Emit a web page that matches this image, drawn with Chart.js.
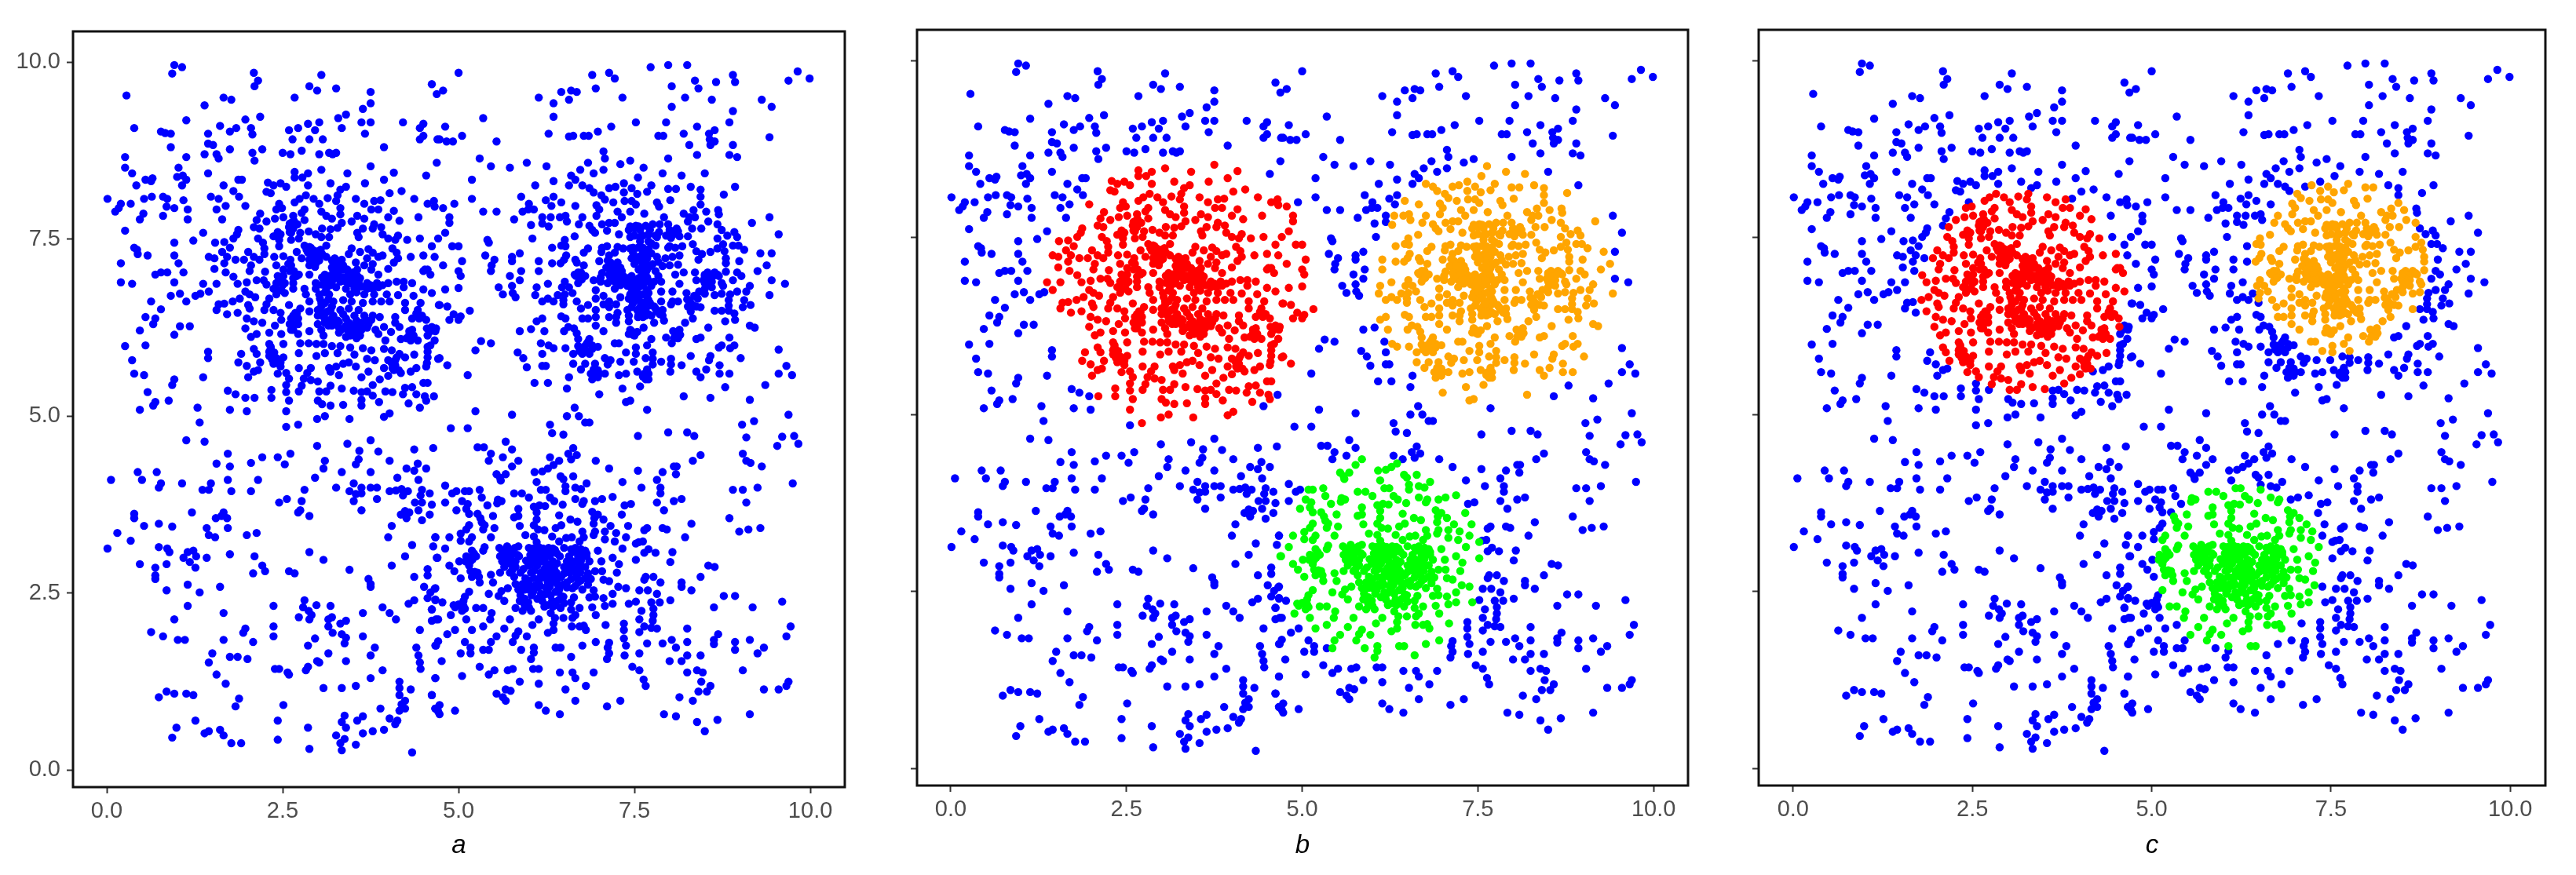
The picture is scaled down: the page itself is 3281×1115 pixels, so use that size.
<!DOCTYPE html>
<html>
<head>
<meta charset="utf-8">
<title>Clusters a, b, c</title>
<script src="https://cdn.jsdelivr.net/npm/chart.js@4/dist/chart.umd.min.js"></script>
<style>
  html, body { margin: 0; background: #fff; width: 3281px; height: 1115px; overflow: hidden; }
  canvas { position: absolute; }
</style>
</head>
<body>
<canvas id="panelA"></canvas>
<canvas id="panelB"></canvas>
<canvas id="panelC"></canvas>
<script>
const tickValues = [0, 2.5, 5, 7.5, 10];

// one [x, y] per dot, by quadrant of the plot
const upperLeft = [[0.96,9.96],[1.07,9.93],[0.93,9.84],[2.09,9.85],[2.15,9.74],[2.10,9.66],[3.05,9.82],[2.88,9.66],[2.99,9.60],[3.26,9.63],[3.75,9.58],[3.75,9.42],[3.64,9.34],[0.28,9.53],[1.66,9.50],[1.77,9.47],[2.67,9.50],[1.39,9.39],[4.62,9.69],[4.69,9.55],
[1.13,9.18],[1.97,9.19],[2.18,9.23],[3.40,9.26],[3.29,9.21],[0.39,9.07],[1.61,9.10],[1.84,9.07],[1.75,9.02],[2.05,9.07],[2.07,8.98],[0.77,9.02],[0.83,9.0],[0.91,8.99],[1.44,8.99],[2.59,9.04],[2.72,9.07],[2.86,9.13],[3.02,9.15],[2.96,9.04],[3.34,9.07],[3.62,9.15],[3.75,9.15],[3.67,8.99],[4.21,9.15],[4.50,9.13],[4.45,9.07],[4.50,8.96],[4.45,8.91],
[2.64,8.91],[2.88,8.91],[3.07,8.91],[4.70,8.91],[1.44,8.85],[1.51,8.83],[0.91,8.80],[1.75,8.77],[2.21,8.77],[3.94,8.80],[0.26,8.66],[1.13,8.66],[1.39,8.70],[1.56,8.70],[1.59,8.64],[2.07,8.72],[2.10,8.61],[2.50,8.72],[2.61,8.70],[2.77,8.75],[3.02,8.70],[3.16,8.72],[3.21,8.70],[3.26,8.72],[4.69,8.58],
[0.26,8.51],[1.02,8.51],[0.36,8.43],[1.44,8.43],[3.05,8.48],[3.75,8.53],[2.67,8.45],[2.86,8.43],[3.42,8.43],[4.08,8.44],[4.54,8.40],[0.55,8.34],[0.65,8.36],[0.63,8.32],[1.0,8.38],[1.08,8.40],[1.13,8.34],[1.07,8.26],[0.42,8.26],[1.66,8.26],[1.87,8.34],[1.92,8.34],[2.67,8.37],[2.78,8.37],[3.94,8.34],[3.18,8.29],[3.67,8.29],[2.29,8.30],[2.37,8.26],[2.47,8.29],[2.55,8.24],[2.86,8.26],[3.40,8.24],[3.32,8.20],
[2.27,8.17],[2.33,8.15],[1.80,8.18],[1.88,8.10],[4.02,8.15],[4.19,8.18],[3.28,8.12],[3.26,8.04],[2.83,8.12],[2.74,8.07],[2.67,8.02],[2.94,8.07],[3.14,8.08],[3.54,8.07],[4.37,8.07],[0.01,8.07],[0.53,8.07],[0.64,8.10],[0.80,8.10],[0.86,8.07],[1.09,8.05],[1.48,8.10],[1.59,8.07],
[0.20,8.0],[0.34,8.0],[0.17,7.94],[0.12,7.89],[0.85,7.96],[0.96,7.94],[1.15,7.92],[1.56,7.92],[1.69,7.97],[1.97,7.97],[0.52,7.86],[0.47,7.78],[0.80,7.83],[1.15,7.78],[1.64,7.78],[3.66,8.0],[3.80,8.04],[3.89,8.05],[3.76,7.92],[3.86,7.92],[4.08,7.90],[4.0,7.81],[4.16,7.76],[4.43,7.81],[4.56,8.0],[4.65,8.04],[4.66,7.96],
[2.45,8.0],[2.49,7.94],[2.41,7.92],[3.02,8.0],[3.05,7.89],[3.12,7.83],[3.32,7.94],[3.32,7.85],[2.81,7.92],[2.77,7.87],[2.81,7.77],[2.18,7.86],[2.13,7.77],[2.27,7.75],[2.39,7.79],[2.51,7.81],[2.65,7.83],[2.62,7.73],[2.71,7.71],[3.20,7.79],[3.34,7.73],[3.48,7.75],[3.56,7.83],[3.66,7.79],
[2.09,7.67],[2.17,7.65],[2.59,7.67],[3.06,7.65],[3.18,7.64],[3.28,7.66],[3.80,7.71],[3.90,7.67],[3.78,7.65],[3.64,7.65],[3.56,7.59],[1.87,7.63],[1.85,7.57],[1.80,7.51],[1.37,7.59],[1.23,7.48],[0.96,7.45],[0.26,7.62],
[2.43,7.60],[2.47,7.57],[2.37,7.54],[2.45,7.49],[2.62,7.59],[2.62,7.49],[2.75,7.59],[2.87,7.61],[2.97,7.57],[3.05,7.53],[3.16,7.53],[2.73,7.51],[3.58,7.53],[3.92,7.57],[4.0,7.51],[4.14,7.55],[4.10,7.49],[4.27,7.49],[4.45,7.51],[4.71,7.51],[2.15,7.51],[2.22,7.45],[1.54,7.45],[1.67,7.46],[1.75,7.38],[2.45,7.40],[2.81,7.41],[2.88,7.39],[3.12,7.41],[3.48,7.37],[3.72,7.36],[4.06,7.37],[4.62,7.40],
[0.39,7.38],[0.43,7.35],[0.44,7.29],[0.58,7.27],[0.96,7.27],[1.64,7.32],[2.01,7.32],[2.24,7.37],[2.24,7.29],[2.70,7.32],[2.86,7.31],[2.96,7.29],[3.06,7.29],[3.44,7.29],[3.60,7.32],[3.78,7.31],[3.92,7.27],[4.12,7.31],
[1.45,7.25],[1.53,7.23],[1.71,7.25],[1.83,7.21],[1.95,7.21],[2.09,7.25],[2.17,7.21],[2.38,7.25],[2.51,7.26],[2.61,7.21],[2.77,7.23],[2.88,7.21],[2.98,7.21],[3.12,7.25],[3.24,7.23],[3.34,7.21],[3.70,7.23],[3.86,7.25],[4.14,7.23],[4.32,7.25],[4.50,7.27],[4.66,7.25],
[0.20,7.16],[1.02,7.16],[1.67,7.16],[2.05,7.13],[2.41,7.13],[2.62,7.13],[2.88,7.13],[2.96,7.11],[3.22,7.13],[3.36,7.13],[3.54,7.17],[3.66,7.13],[3.78,7.15],[4.08,7.17],[1.53,7.08],[2.03,7.05],[2.51,7.07],[2.66,7.05],[3.22,7.05],[3.42,7.07],[3.56,7.07],[3.76,7.07],[4.0,7.08],[4.50,7.05],[4.56,7.07],
[0.69,7.0],[0.77,7.03],[0.86,7.03],[1.09,7.03],[1.69,7.03],[1.80,6.97],[2.25,7.04],[2.88,7.0],[2.70,6.98],[2.43,6.98],[2.51,6.98],[3.16,6.98],[3.26,7.02],[3.06,6.96],[3.36,6.96],[3.46,6.98],[3.56,6.98],[3.86,7.0],
[0.20,6.89],[0.96,6.89],[2.13,6.92],[2.23,6.92],[1.99,6.89],[2.41,6.88],[2.53,6.88],[2.65,6.88],[2.97,6.88],[3.06,6.86],[3.20,6.90],[3.32,6.90],[3.46,6.88],[3.58,6.90],[3.70,6.88],[3.84,6.88],[4.0,6.88],[4.12,6.90],[4.22,6.90],[4.34,6.88],[0.36,6.87],[1.37,6.87],[1.56,6.87],[1.86,6.87],[2.27,6.86],
[2.37,6.80],[2.65,6.80],[2.81,6.80],[2.97,6.80],[3.12,6.80],[3.26,6.82],[3.40,6.80],[3.52,6.80],[3.70,6.80],[3.86,6.82],[4.22,6.82],[4.50,6.79],[4.62,6.74],[1.97,6.76],[2.03,6.72],[1.45,6.76],[1.04,6.73],[0.91,6.70],[1.26,6.70],[1.33,6.73],
[2.11,6.68],[2.31,6.66],[2.41,6.72],[2.53,6.74],[2.83,6.72],[3.02,6.72],[3.16,6.72],[3.46,6.72],[3.66,6.72],[3.80,6.72],[3.98,6.72],[4.14,6.71],[4.36,6.70],[1.89,6.66],[1.79,6.62],[1.67,6.59],[1.59,6.58],[1.13,6.62],[0.63,6.62],
[2.27,6.58],[2.59,6.57],[2.88,6.62],[3.05,6.60],[3.22,6.62],[3.36,6.64],[3.64,6.60],[3.78,6.62],[3.90,6.62],[4.02,6.62],[4.24,6.60],[4.46,6.60],[4.72,6.57],[2.01,6.57],[1.56,6.50],[0.77,6.51],[2.24,6.50],[2.03,6.52],[2.37,6.50],[2.47,6.46],[2.75,6.52],[2.68,6.46],[2.88,6.48],[3.0,6.50],[3.14,6.48],[3.32,6.50],[3.44,6.52],[3.58,6.50],[4.24,6.50],[4.42,6.50],
[1.71,6.44],[1.86,6.46],[3.06,6.42],[3.22,6.42],[3.36,6.44],[3.52,6.42],[3.66,6.42],[3.78,6.42],[3.88,6.40],[4.10,6.40],[4.34,6.38],[4.44,6.38],[4.54,6.36],[0.55,6.40],[0.69,6.38],[1.99,6.38],[2.62,6.38],[2.72,6.38],[0.66,6.30],[1.04,6.27],[1.18,6.27],
[2.09,6.34],[2.21,6.32],[2.48,6.36],[2.39,6.28],[2.66,6.30],[3.10,6.32],[3.24,6.30],[3.44,6.32],[3.62,6.32],[3.72,6.30],[4.10,6.32],[4.16,6.26],[4.62,6.26],[4.68,6.24],[1.97,6.24],[0.47,6.21],[2.62,6.22],[2.88,6.20],[3.05,6.22],[3.33,6.22],[3.42,6.22],[3.52,6.22],[3.62,6.22],[3.82,6.22],[3.94,6.26],[4.04,6.19],[4.34,6.22],
[0.96,6.15],[2.13,6.16],[2.05,6.12],[2.31,6.18],[2.48,6.16],[2.72,6.16],[3.08,6.14],[3.46,6.14],[3.56,6.16],[3.86,6.16],[4.30,6.15],[4.56,6.14],[0.26,5.99],[0.55,6.0],[2.31,6.02],[2.51,6.02],[2.75,6.03],[2.87,6.03],[2.98,6.02],[3.08,6.02],[3.20,5.99],[3.32,5.99],[3.46,5.97],[3.64,5.96],[3.96,6.07],[4.18,6.09],[4.32,6.07],[4.42,6.07],[4.66,6.07],
[1.44,5.91],[2.09,5.95],[2.31,5.91],[2.73,5.89],[2.98,5.85],[3.10,5.89],[3.28,5.89],[3.52,5.87],[3.76,5.93],[3.94,5.95],[4.05,5.93],[4.16,5.88],[4.37,5.87],[4.56,5.91],[1.44,5.82],[1.91,5.88],[2.13,5.88],[2.31,5.85],[2.41,5.82],[2.51,5.83],[3.70,5.81],[3.81,5.79],[4.0,5.79],[4.10,5.79],[4.24,5.83],[4.56,5.83],[4.71,5.81],
[0.36,5.79],[1.87,5.76],[2.18,5.76],[2.37,5.74],[2.47,5.70],[3.44,5.76],[3.36,5.74],[3.54,5.70],[3.26,5.70],[3.16,5.68],[2.90,5.68],[2.73,5.68],[1.99,5.71],[3.94,5.68],[4.06,5.68],[4.40,5.68],[4.54,5.70],[0.39,5.60],[0.53,5.58],[2.09,5.63],[2.15,5.65],[2.43,5.60],[2.55,5.61],[2.85,5.61],[3.18,5.63],[3.72,5.63],[4.18,5.61],[4.32,5.63],[4.08,5.65],
[0.96,5.52],[1.37,5.55],[2.01,5.55],[2.59,5.53],[2.80,5.53],[3.30,5.58],[3.62,5.55],[4.0,5.57],[3.88,5.52],[2.90,5.51],[3.0,5.49],[0.93,5.44],[2.55,5.44],[2.77,5.43],[3.18,5.43],[3.78,5.44],[4.50,5.47],[4.56,5.47],[4.34,5.41],[4.24,5.40],
[0.58,5.34],[1.72,5.36],[2.34,5.37],[2.73,5.35],[3.02,5.35],[3.12,5.35],[3.34,5.39],[3.51,5.36],[3.62,5.34],[3.70,5.35],[3.96,5.35],[4.06,5.34],[2.55,5.34],[1.83,5.31],[4.21,5.31],[4.40,5.31],[4.52,5.28],[4.65,5.28],[3.78,5.29],[0.69,5.20],[0.66,5.15],[0.88,5.22],[1.97,5.26],[2.10,5.26],[2.34,5.26],[2.59,5.22],[3.0,5.22],[3.62,5.23],[3.87,5.20],[4.54,5.22],
[3.06,5.17],[3.18,5.15],[3.36,5.16],[3.62,5.15],[4.29,5.18],[1.29,5.12],[0.47,5.09],[1.75,5.09],[1.99,5.07],[2.55,5.07],[4.45,5.12],[3.10,5.0],[2.99,4.96],[3.45,4.96],[4.02,5.04],[3.94,4.99],[1.32,4.91],[2.55,4.85],[2.72,4.88],
[3.10,6.90],[3.15,6.85],[3.25,6.95],[3.38,6.93],[3.50,6.93],[3.52,6.85],[3.10,6.75],[3.15,6.65],[3.05,6.55],[3.10,6.45],[3.15,6.35],[3.20,6.28],[3.30,6.25],[3.45,6.25],[3.50,6.17],[3.55,6.28],[3.40,6.12],[2.95,7.27],[3.02,7.20],[2.92,7.35],[3.00,7.33],[3.28,6.35],[3.40,6.38],[3.48,6.62]];

const lowerLeft = [[1.13,4.66],[1.39,4.64],[3.75,4.66],[2.99,4.58],[3.42,4.61],[3.59,4.51],[3.86,4.50],[4.37,4.53],[4.64,4.55],[1.72,4.47],[2.21,4.42],[2.43,4.42],[2.61,4.47],[3.10,4.37],[3.58,4.39],[3.54,4.32],[4.02,4.37],[1.56,4.33],[2.05,4.34],[2.53,4.32],[1.75,4.29],[3.08,4.26],[4.42,4.33],[4.26,4.26],[4.37,4.23],[4.54,4.26],
[0.44,4.21],[0.71,4.21],[3.34,4.21],[3.75,4.21],[0.06,4.10],[0.50,4.10],[1.72,4.10],[2.15,4.10],[2.96,4.13],[4.13,4.13],[4.43,4.10],[1.07,4.05],[1.48,4.05],[0.77,4.05],[3.51,4.05],[0.74,3.99],[1.36,3.96],[1.45,3.96],[2.81,3.96],[3.26,3.99],[3.62,3.99],[3.75,3.99],[3.84,3.99],
[1.77,3.94],[2.05,3.94],[3.45,3.94],[4.02,3.94],[4.11,3.95],[4.19,3.97],[4.28,3.94],[4.48,3.96],[4.59,3.91],[3.54,3.90],[3.62,3.91],[4.21,3.88],[4.46,3.88],[2.56,3.83],[3.84,3.83],[2.77,3.80],[2.45,3.78],[3.51,3.80],[4.38,3.78],[4.48,3.78],[4.62,3.75],
[2.75,3.67],[2.72,3.64],[1.21,3.64],[3.62,3.67],[4.43,3.67],[4.24,3.66],[4.18,3.61],[4.30,3.64],[4.59,3.61],[4.26,3.56],[0.39,3.62],[0.39,3.56],[1.66,3.64],[1.55,3.56],[1.63,3.59],[1.71,3.56],[2.88,3.59],[4.48,3.53],[0.53,3.45],[0.74,3.48],[0.93,3.44],[1.42,3.42],[1.72,3.42],[4.05,3.45],
[0.15,3.35],[1.45,3.32],[1.99,3.32],[2.13,3.35],[1.54,3.29],[4.0,3.29],[4.67,3.29],[0.34,3.24],[0.01,3.13],[0.74,3.15],[0.86,3.13],[0.89,3.08],[4.34,3.18],[4.64,3.16],[1.23,3.10],[1.15,3.08],[1.27,3.02],[1.09,3.0],[1.42,3.0],[1.75,3.05],[2.10,3.02],[2.88,3.08],[3.08,2.97],[4.24,3.02],[4.69,3.0],
[0.47,2.91],[0.85,2.91],[1.18,2.94],[0.69,2.86],[1.26,2.86],[2.21,2.89],[4.05,2.89],[4.56,2.84],[2.25,2.81],[2.08,2.78],[2.59,2.81],[2.67,2.78],[3.45,2.83],[0.69,2.75],[0.69,2.70],[4.56,2.75],[4.37,2.73],[3.72,2.70],[3.75,2.63],[1.15,2.62],[1.61,2.59],[3.75,2.59],[4.51,2.59],[0.85,2.54],[1.32,2.51],[4.66,2.56],[4.60,2.51],[4.56,2.43],[4.67,2.40],
[2.81,2.40],[4.37,2.40],[4.29,2.35],[1.15,2.32],[2.37,2.32],[2.98,2.33],[3.18,2.32],[2.79,2.30],[2.87,2.25],[3.92,2.30],[4.62,2.27],[1.66,2.22],[2.91,2.19],[3.64,2.22],[4.02,2.22],[2.73,2.16],[2.88,2.13],[3.20,2.16],[0.96,2.13],[4.11,2.13],[3.15,2.13],[3.40,2.11],[3.32,2.07],[4.62,2.11],[4.68,2.13],
[2.37,2.03],[3.15,2.03],[1.97,2.0],[4.45,1.98],[3.21,1.94],[0.63,1.95],[1.94,1.94],[0.80,1.89],[2.37,1.89],[3.34,1.92],[3.64,1.89],[3.40,1.87],[1.01,1.84],[1.11,1.84],[1.66,1.84],[2.08,1.81],[2.96,1.86],[3.38,1.79],[2.86,1.76],[4.40,1.73],[3.81,1.73],[4.68,1.76],[1.50,1.65],[3.15,1.65],[4.43,1.62],[3.75,1.62],
[1.75,1.60],[1.86,1.60],[2.0,1.57],[2.99,1.54],[3.40,1.54],[4.45,1.52],[1.45,1.52],[3.02,1.52],[2.39,1.43],[2.45,1.43],[2.86,1.46],[2.57,1.38],[2.83,1.41],[3.92,1.41],[4.46,1.43],[1.56,1.35],[2.59,1.35],[3.75,1.30],[4.67,1.30],[1.69,1.22],[4.16,1.25],[3.54,1.19],[3.08,1.16],[3.34,1.16],[4.16,1.16],
[0.85,1.11],[0.96,1.08],[1.13,1.08],[1.23,1.06],[0.74,1.03],[4.32,1.14],[4.16,1.06],[4.62,1.06],[1.88,1.01],[4.24,0.98],[4.19,0.93],[2.51,0.92],[1.83,0.90],[4.67,0.87],[3.89,0.87],[4.24,0.87],[4.16,0.84],[4.71,0.83],[3.38,0.77],[3.64,0.76],[3.56,0.70],[1.26,0.70],[2.43,0.70],[4.02,0.73],[4.13,0.70],[3.34,0.68],[4.10,0.65],
[0.99,0.60],[2.86,0.60],[3.40,0.60],[3.94,0.57],[1.61,0.57],[1.45,0.55],[1.39,0.52],[3.64,0.52],[3.78,0.55],[0.93,0.46],[1.66,0.49],[3.26,0.49],[3.38,0.44],[2.43,0.43],[1.77,0.38],[1.91,0.38],[3.32,0.38],[3.54,0.36],[2.88,0.30],[3.34,0.28],[4.34,0.25]];

const upperRight = [[4.78,9.60],[5.0,9.85],[5.35,9.21],[4.81,9.09],[5.05,8.96],[4.73,8.91],[4.83,8.88],[4.92,8.88],[5.54,8.88],[5.30,8.64],[5.46,8.53],[5.73,8.51],[5.97,8.58],[6.25,8.53],[5.19,8.34],[5.19,8.07],[4.78,7.94],[4.94,8.0],[5.35,7.89],[5.54,7.89],[4.87,7.81],[4.87,7.73],[4.81,7.59],[4.91,7.40],[5.0,7.40],
[5.41,7.49],[5.43,7.45],[5.38,7.27],[5.51,7.21],[5.87,7.30],[5.76,7.25],[5.76,7.19],[5.05,7.19],[4.78,7.13],[5.47,7.13],[5.46,7.05],[5.0,7.05],[5.03,6.98],[5.89,7.05],[5.73,6.98],[5.87,6.92],[5.0,6.81],[4.81,6.79],[5.57,6.82],[5.76,6.84],[5.63,6.72],[5.77,6.74],[5.81,6.68],
[4.73,6.57],[4.84,6.55],[5.16,6.49],[4.93,6.44],[5.03,6.41],[4.87,6.36],[5.0,6.36],[5.32,6.06],[5.46,6.03],[5.24,5.93],[4.73,5.82],[4.84,5.72],[5.13,5.58],[5.24,5.07],[5.76,5.02],[4.89,4.83],[5.13,4.83],[5.84,5.90],[5.92,5.82],[5.97,5.69],[5.87,6.20],[6.03,6.23],[6.22,6.20],[6.08,5.47],[6.27,5.47],
[6.14,9.50],[6.35,9.42],[6.46,9.58],[6.57,9.47],[6.60,9.60],[6.68,9.58],[6.90,9.82],[6.95,9.63],[7.14,9.85],[7.22,9.77],[7.33,9.50],[7.73,9.93],[7.98,9.96],[8.25,9.96],[8.03,9.66],[8.36,9.74],[8.41,9.63],[8.66,9.72],[8.90,9.82],[8.93,9.72],[9.69,9.74],[9.82,9.87],[9.99,9.77],[8.22,9.50],[8.60,9.47],[8.03,9.37],[9.31,9.47],[9.45,9.37],[8.90,9.31],
[6.35,9.23],[7.17,9.09],[7.52,9.15],[7.95,9.15],[8.39,9.09],[8.85,9.15],[6.28,8.99],[6.57,8.95],[6.63,8.96],[6.78,8.96],[6.85,8.96],[6.98,9.02],[7.84,8.96],[7.91,8.96],[8.20,8.99],[8.64,9.04],[8.56,8.99],[8.57,8.91],[8.64,8.88],[8.58,8.83],[9.42,8.94],[8.28,8.83],[8.90,8.83],
[7.06,8.74],[7.08,8.64],[8.39,8.69],[8.85,8.69],[8.96,8.66],[7.98,8.64],[6.84,8.58],[7.44,8.61],[7.30,8.56],[7.63,8.51],[6.73,8.48],[7.06,8.48],[6.92,8.43],[7.90,8.43],[8.17,8.40],[8.50,8.43],[6.60,8.40],[6.66,8.34],[7.55,8.37],[6.35,8.32],[6.09,8.26],[6.57,8.26],[6.76,8.26],[6.86,8.22],[7.14,8.22],[7.23,8.24],[7.35,8.29],[7.74,8.26],[8.93,8.24],
[7.98,8.21],[8.09,8.21],[8.30,8.24],[8.44,8.20],[7.46,8.22],[7.68,8.17],[7.54,8.14],[8.77,8.13],[6.92,8.16],[7.03,8.12],[7.35,8.16],[5.89,8.10],[6.35,8.10],[6.24,8.05],[6.46,8.02],[7.08,8.06],[7.20,8.02],[7.36,8.04],[7.46,8.04],[7.82,8.02],[8.01,8.05],[8.44,8.10],[8.44,7.99],
[6.0,8.0],[6.32,7.97],[6.66,7.97],[6.96,7.98],[7.52,7.99],[7.85,7.96],[5.99,7.92],[6.07,7.92],[5.91,7.89],[7.0,7.92],[7.26,7.89],[7.44,7.89],[7.64,7.86],[8.20,7.86],[8.34,7.91],[8.52,7.89],[8.69,7.91],[6.19,7.81],[6.31,7.81],[6.44,7.81],[6.52,7.83],[6.76,7.81],[6.96,7.83],[7.32,7.81],[7.92,7.81],[8.28,7.81],[8.36,7.81],[8.70,7.85],[9.42,7.81],[5.79,7.78],
[6.54,7.75],[8.55,7.75],[8.26,7.75],[9.17,7.73],[6.03,7.70],[6.19,7.72],[6.28,7.68],[6.71,7.71],[6.86,7.69],[7.04,7.71],[7.14,7.73],[7.22,7.73],[7.52,7.69],[7.66,7.69],[7.76,7.71],[7.86,7.71],[7.98,7.71],[8.68,7.71],[6.90,7.63],[7.11,7.62],[7.42,7.63],[7.50,7.65],[7.58,7.63],[7.72,7.63],[8.0,7.63],[8.12,7.61],[8.32,7.65],[8.45,7.65],[8.74,7.63],[8.92,7.60],[9.55,7.57],
[6.05,7.51],[6.65,7.54],[6.94,7.59],[7.28,7.57],[7.44,7.53],[7.58,7.53],[7.82,7.53],[8.02,7.52],[8.14,7.54],[8.26,7.54],[8.68,7.51],[8.82,7.55],[8.96,7.53],[6.51,7.49],[6.46,7.41],[6.52,7.40],[7.26,7.39],[7.58,7.47],[7.70,7.47],[7.80,7.41],[8.33,7.43],[8.76,7.43],[8.90,7.41],[8.98,7.41],[7.11,7.40],
[6.33,7.38],[6.84,7.37],[7.04,7.38],[7.34,7.37],[7.44,7.37],[7.98,7.38],[8.08,7.38],[8.18,7.40],[8.68,7.37],[9.06,7.35],[6.78,7.31],[7.03,7.32],[7.22,7.31],[7.48,7.31],[7.62,7.31],[8.38,7.33],[8.46,7.29],[8.58,7.32],[8.78,7.33],[9.29,7.30],[9.45,7.30],
[6.53,7.27],[7.14,7.27],[7.46,7.23],[7.56,7.25],[7.68,7.23],[7.82,7.25],[7.94,7.23],[8.04,7.25],[8.14,7.27],[8.41,7.21],[8.80,7.23],[6.14,7.19],[6.33,7.16],[6.45,7.16],[6.50,7.21],[6.66,7.21],[7.0,7.19],[7.16,7.17],[7.26,7.17],[7.50,7.15],[7.62,7.15],[7.76,7.15],[8.0,7.13],[8.12,7.14],[8.80,7.16],[8.99,7.19],[9.38,7.13],
[6.78,7.13],[6.68,7.17],[7.14,7.09],[7.56,7.07],[7.68,7.07],[7.80,7.05],[7.22,7.05],[7.32,7.05],[6.14,7.05],[9.25,7.05],[8.80,7.04],[6.74,7.03],[7.04,7.02],[8.08,7.0],[8.20,7.03],[8.36,7.03],[8.54,7.03],[8.64,7.03],[8.96,7.03],[6.67,6.98],[6.80,6.98],[7.02,6.96],[7.22,6.98],[7.34,6.98],[7.46,6.98],[7.60,6.98],[7.84,6.98],[8.50,6.98],[8.70,6.98],[9.02,6.98],
[6.51,6.90],[6.92,6.92],[7.02,6.90],[9.45,6.92],[9.64,6.87],[6.27,6.87],[6.70,6.88],[7.22,6.90],[7.38,6.90],[7.54,6.88],[7.66,6.90],[7.88,6.90],[8.14,6.87],[8.38,6.92],[8.50,6.88],[8.58,6.90],[8.74,6.88],[8.90,6.92],[6.11,6.82],[6.47,6.82],[6.57,6.82],[6.95,6.78],[7.22,6.80],[7.46,6.80],[7.56,6.82],[8.04,6.76],[8.76,6.84],[9.14,6.84],[8.50,6.80],
[6.09,6.71],[6.27,6.66],[6.41,6.71],[6.51,6.72],[6.62,6.74],[7.06,6.70],[7.44,6.72],[7.56,6.72],[7.70,6.74],[7.88,6.76],[8.24,6.74],[8.42,6.76],[8.64,6.71],[8.74,6.73],[8.86,6.72],[8.96,6.76],[9.09,6.76],[9.42,6.71],[6.19,6.62],[6.35,6.62],[6.49,6.64],[6.68,6.62],[6.95,6.66],[7.14,6.62],[7.30,6.68],[7.46,6.64],[7.58,6.62],[7.70,6.64],[7.88,6.62],[8.04,6.62],[8.12,6.62],[8.28,6.64],[8.40,6.66],[8.84,6.64],[9.06,6.64],
[6.49,6.58],[6.84,6.57],[7.06,6.58],[7.14,6.54],[7.24,6.58],[7.58,6.54],[7.70,6.56],[8.02,6.58],[8.26,6.55],[8.34,6.56],[8.44,6.54],[8.84,6.56],[9.04,6.54],[9.15,6.57],[6.74,6.52],[6.95,6.50],[7.40,6.50],[7.54,6.50],[7.66,6.48],[7.80,6.52],[7.90,6.50],[8.30,6.48],[8.64,6.49],[8.74,6.49],[8.84,6.49],
[6.46,6.41],[6.52,6.38],[6.19,6.38],[6.11,6.34],[6.76,6.38],[6.84,6.38],[6.95,6.40],[7.14,6.40],[7.26,6.46],[7.24,6.40],[7.42,6.42],[7.56,6.44],[7.74,6.42],[7.90,6.42],[8.33,6.38],[8.92,6.45],[8.93,6.36],[7.24,6.32],[7.42,6.34],[7.78,6.32],[7.92,6.35],[8.22,6.32],[8.79,6.34],[9.14,6.28],[9.21,6.25],
[6.95,6.28],[6.56,6.26],[6.64,6.24],[7.63,6.25],[8.55,6.25],[7.44,6.22],[7.54,6.19],[6.50,6.20],[6.68,6.17],[7.06,6.20],[8.14,6.22],[8.08,6.16],[7.48,6.15],[6.70,6.09],[6.86,6.09],[7.95,6.11],[8.12,6.10],[7.74,6.09],[8.44,6.11],[8.38,6.09],[8.85,6.11],
[6.17,6.03],[6.28,6.0],[6.82,6.02],[6.90,6.0],[7.22,6.03],[7.28,6.03],[8.03,6.03],[7.68,6.0],[8.74,6.0],[8.92,6.0],[6.35,5.96],[6.52,5.96],[6.70,5.99],[6.98,5.98],[7.52,5.97],[8.70,5.97],[8.86,5.96],[9.55,5.94],[6.19,5.88],[6.63,5.88],[6.76,5.88],[6.86,5.88],[7.38,5.90],[7.52,5.88],[7.76,5.90],[8.30,5.85],[8.58,5.85],[9.01,5.82],
[7.08,5.82],[7.16,5.79],[7.66,5.82],[8.02,5.81],[8.56,5.79],[7.76,5.81],[6.63,5.74],[6.80,5.74],[6.94,5.74],[7.12,5.73],[7.30,5.77],[7.49,5.77],[7.88,5.77],[6.19,5.71],[6.24,5.71],[8.17,5.72],[8.71,5.72],[9.66,5.71],[7.76,5.73],[8.02,5.73],[6.74,5.66],[6.92,5.66],[7.68,5.66],[8.52,5.66],[8.38,5.63],
[7.0,5.60],[7.08,5.60],[7.28,5.58],[7.38,5.60],[7.54,5.63],[7.64,5.60],[8.01,5.63],[8.71,5.60],[8.85,5.60],[9.55,5.60],[9.74,5.58],[6.57,5.55],[6.90,5.52],[6.98,5.55],[8.44,5.55],[7.70,5.52],[7.58,5.42],[7.33,5.39],[6.54,5.39],[8.79,5.41],[9.36,5.44],[7.0,5.31],[8.20,5.28],[8.58,5.26],[9.14,5.23],[7.38,5.20],[7.44,5.22],
[6.65,5.12],[7.68,5.09],[9.69,5.02],[6.54,5.0],[6.71,5.0],[6.80,4.91],[6.86,4.91],[9.20,4.93],[9.03,4.88],[6.30,4.88],[6.33,4.76],[6.49,4.74],[7.55,4.72],[7.98,4.77],[8.25,4.77],[8.35,4.72],[9.09,4.70],[9.60,4.71],[9.77,4.72],
[7.58,7.20],[7.66,7.18],[7.72,7.12],[7.62,7.02],[7.68,6.96],[7.72,6.90],[7.62,6.84],[7.68,6.78],[7.74,6.84],[7.62,6.72],[7.64,6.60],[7.64,6.52],[7.70,6.44],[7.62,6.40],[7.50,6.76],[7.40,6.84],[7.30,6.94],[7.62,7.38],[7.70,7.36],[7.74,7.30],[7.84,7.18],[7.90,7.12],[7.74,7.44]];

const lowerRight = [[5.27,4.56],[5.36,4.56],[5.67,4.64],[5.76,4.53],[5.46,4.47],[5.63,4.42],[5.43,4.37],[5.85,4.37],[5.76,4.29],[6.30,4.42],[6.63,4.55],[6.56,4.47],[6.68,4.45],[6.60,4.39],[6.95,4.37],[7.14,4.26],[7.55,4.23],[8.33,4.37],[8.44,4.45],[9.04,4.47],[9.09,4.37],[9.15,4.34],[9.31,4.29],[9.53,4.58],[9.83,4.61],
[6.43,4.37],[6.35,4.31],[6.27,4.26],[6.19,4.22],[6.08,4.21],[5.54,4.18],[5.67,4.18],[5.59,4.13],[5.60,4.09],[6.45,4.15],[6.63,4.15],[8.06,4.29],[8.10,4.29],[8.09,4.18],[7.90,4.21],[7.82,4.10],[7.33,4.07],[4.81,4.02],[6.11,4.07],[6.49,4.11],[6.82,4.05],[6.52,4.01],[6.66,3.99],[6.74,3.97],[5.30,3.96],[6.17,3.96],[6.24,3.96],[7.60,3.99],[7.87,3.99],[8.90,3.96],[9.04,3.96],[9.25,3.99],[9.75,4.05],
[4.91,3.91],[4.97,3.94],[5.09,3.94],[5.15,3.94],[6.52,3.94],[7.87,3.91],[5.79,3.91],[5.90,3.91],[5.33,3.85],[6.0,3.85],[6.30,3.85],[4.81,3.78],[5.05,3.80],[5.56,3.82],[5.61,3.80],[6.36,3.80],[6.66,3.83],[6.78,3.80],[6.94,3.80],[7.04,3.83],[7.19,3.86],[8.17,3.83],[8.06,3.80],[7.82,3.78],[9.09,3.78],
[5.13,3.76],[5.41,3.74],[5.55,3.77],[6.07,3.72],[6.15,3.74],[6.23,3.73],[6.48,3.75],[6.76,3.76],[7.36,3.74],[7.45,3.76],[4.97,3.67],[5.11,3.69],[5.85,3.69],[7.92,3.67],[6.11,3.64],[6.90,3.65],[5.15,3.62],[5.27,3.62],[6.43,3.60],[6.98,3.61],[7.32,3.61],[8.85,3.56],
[5.49,3.59],[5.31,3.56],[5.79,3.57],[5.85,3.59],[6.11,3.54],[6.59,3.54],[6.69,3.51],[7.06,3.54],[6.93,3.56],[5.33,3.50],[5.37,3.46],[5.15,3.46],[5.87,3.45],[6.07,3.46],[6.46,3.46],[6.92,3.48],[7.16,3.45],[7.41,3.45],[7.68,3.42],[7.90,3.42],[7.96,3.40],[8.31,3.48],[9.29,3.42],
[5.51,3.42],[5.35,3.40],[5.11,3.40],[6.13,3.40],[6.38,3.42],[6.22,3.39],[6.76,3.37],[6.94,3.37],[7.08,3.37],[7.24,3.35],[7.64,3.39],[8.99,3.37],[9.12,3.40],[4.67,3.29],[4.87,3.29],[5.03,3.34],[5.03,3.24],[5.19,3.29],[5.46,3.29],[5.95,3.32],[6.07,3.30],[6.33,3.30],[6.53,3.28],[6.61,3.29],[6.78,3.29],[6.92,3.32],[7.08,3.26],[7.38,3.29],[7.22,3.23],[8.22,3.29],
[5.15,3.23],[6.11,3.22],[6.43,3.23],[6.72,3.23],[7.56,3.22],[7.62,3.23],[7.52,3.20],[5.37,3.15],[4.81,3.13],[5.58,3.14],[5.69,3.16],[5.85,3.16],[6.50,3.14],[6.70,3.10],[6.80,3.10],[6.98,3.10],[7.33,3.13],[7.70,3.12],[5.19,3.10],[5.35,3.10],[5.74,3.10],[6.11,3.10],[6.23,3.10],[6.37,3.11],[6.60,3.12],[7.64,3.07],[7.80,3.07],[8.04,3.08],
[5.59,3.02],[5.11,3.02],[5.25,3.02],[5.74,3.02],[5.84,3.04],[6.02,3.04],[6.17,3.02],[6.29,3.02],[6.57,3.02],[6.70,3.02],[6.82,3.02],[7.19,3.0],[4.70,3.0],[5.01,2.95],[5.17,2.95],[5.71,2.97],[5.81,2.95],[6.04,2.97],[6.19,2.95],[6.34,2.95],[6.54,2.95],[6.67,2.95],[6.86,2.95],[7.03,2.95],[7.52,2.97],[8.01,2.94],[7.28,2.91],
[4.87,2.89],[5.15,2.89],[5.65,2.87],[5.81,2.87],[5.99,2.89],[6.12,2.89],[6.27,2.87],[6.50,2.87],[6.62,2.87],[6.76,2.87],[8.55,2.89],[8.64,2.87],[4.94,2.81],[5.17,2.81],[5.27,2.79],[5.59,2.79],[5.46,2.76],[5.73,2.79],[5.88,2.79],[6.03,2.79],[6.17,2.79],[6.39,2.79],[6.58,2.79],[6.73,2.79],[6.94,2.81],[7.04,2.81],[7.25,2.79],[5.03,2.71],[5.29,2.73],[5.19,2.73],
[5.79,2.73],[5.95,2.71],[6.07,2.71],[6.31,2.71],[6.46,2.73],[6.68,2.73],[6.80,2.71],[6.88,2.70],[7.06,2.69],[7.14,2.67],[7.66,2.73],[7.77,2.73],[8.44,2.73],[5.30,2.65],[5.49,2.65],[5.81,2.63],[5.91,2.63],[6.14,2.65],[6.27,2.65],[6.39,2.65],[6.54,2.65],[6.70,2.65],[7.64,2.69],[7.87,2.65],[8.17,2.65],
[4.67,2.57],[5.15,2.52],[5.70,2.57],[5.61,2.53],[5.85,2.55],[6.0,2.55],[6.27,2.55],[6.43,2.55],[6.62,2.57],[6.76,2.55],[6.92,2.54],[7.27,2.59],[7.38,2.57],[7.57,2.54],[7.69,2.54],[8.17,2.59],[8.31,2.54],[5.43,2.49],[5.09,2.45],[5.57,2.46],[5.88,2.47],[6.04,2.47],[6.17,2.49],[6.31,2.47],[6.49,2.45],[6.64,2.44],[7.19,2.49],[7.82,2.49],[8.77,2.46],[8.93,2.46],
[4.67,2.41],[4.77,2.37],[5.07,2.39],[5.65,2.39],[5.87,2.39],[5.99,2.37],[6.19,2.39],[6.33,2.39],[6.86,2.44],[6.94,2.45],[7.06,2.43],[6.60,2.37],[7.52,2.38],[8.01,2.40],[9.60,2.38],[4.93,2.33],[5.01,2.33],[7.42,2.35],[7.74,2.37],[7.86,2.37],[7.08,2.32],[7.19,2.35],[8.63,2.30],[9.18,2.30],
[5.25,2.29],[5.35,2.29],[5.81,2.29],[5.91,2.25],[6.03,2.25],[6.22,2.31],[6.34,2.31],[6.45,2.29],[6.60,2.27],[6.72,2.29],[6.90,2.30],[7.60,2.25],[7.77,2.28],[4.62,2.27],[5.05,2.25],[4.89,2.19],[5.47,2.22],[6.31,2.22],[6.66,2.19],[6.95,2.19],[7.77,2.19],[6.37,2.15],[6.49,2.15],[4.71,2.13],[5.11,2.13],[5.45,2.13],[5.73,2.13],[6.14,2.13],[7.57,2.13],[7.76,2.11],[6.62,2.15],[6.05,2.05],[6.35,2.07],
[7.09,2.05],[7.35,2.07],[7.64,2.03],[7.74,2.01],[7.82,2.0],[6.61,2.03],[6.72,2.03],[6.78,2.04],[6.81,1.98],[5.35,2.03],[5.65,2.0],[8.25,2.0],[9.72,2.03],[4.95,1.98],[5.19,1.98],[7.35,1.98],[6.27,1.94],[6.35,1.98],[7.57,1.95],[4.84,1.92],[5.85,1.96],[8.69,1.92],[5.54,1.89],[5.81,1.90],[5.97,1.89],[9.66,1.89],[7.35,1.86],
[4.71,1.82],[5.09,1.81],[5.46,1.81],[5.77,1.81],[6.95,1.81],[7.14,1.80],[8.03,1.84],[8.25,1.81],[8.63,1.84],[8.63,1.78],[8.93,1.81],[9.14,1.84],[4.67,1.76],[6.76,1.76],[7.38,1.76],[7.68,1.79],[7.90,1.79],[8.09,1.73],[5.17,1.73],[6.38,1.73],[6.45,1.73],[6.07,1.73],[7.12,1.73],[9.34,1.73],[5.03,1.65],[5.17,1.65],[5.35,1.70],[5.43,1.70],[5.89,1.70],[6.07,1.66],[7.14,1.65],[7.57,1.65],[8.93,1.70],[9.25,1.65],
[6.60,1.60],[6.03,1.57],[7.36,1.62],[8.25,1.62],[8.44,1.62],[7.11,1.57],[4.76,1.54],[8.0,1.54],[8.17,1.54],[5.30,1.46],[7.47,1.46],[6.06,1.43],[6.14,1.43],[5.51,1.41],[5.70,1.41],[5.77,1.43],[7.57,1.41],[8.39,1.41],[9.04,1.41],[5.43,1.35],[6.44,1.38],[6.62,1.38],[6.92,1.38],[8.25,1.38],[8.47,1.38],[5.05,1.33],[4.67,1.30],[6.66,1.30],
[5.87,1.25],[7.63,1.28],[9.69,1.25],[8.45,1.25],[6.14,1.22],[7.66,1.19],[6.81,1.19],[8.58,1.19],[9.66,1.19],[5.67,1.14],[6.52,1.14],[5.74,1.12],[8.41,1.11],[8.53,1.11],[9.34,1.14],[9.55,1.14],[5.54,1.08],[4.62,1.06],[5.63,1.03],[8.14,1.03],[5.67,0.98],[6.66,0.98],[7.30,0.98],[8.33,0.98],
[6.14,0.92],[7.11,0.90],[4.73,0.92],[4.67,0.87],[4.95,0.84],[6.24,0.84],[4.73,0.79],[6.44,0.79],[7.92,0.79],[8.09,0.76],[9.14,0.79],[8.39,0.68],[8.68,0.71],[8.50,0.55],
[6.10,3.05],[6.24,3.08],[6.30,2.90],[6.40,2.92],[6.44,3.02],[6.08,2.82],[6.22,2.72],[6.36,2.68],[6.12,2.58],[6.22,2.48],[6.42,2.60],[5.96,2.96],[5.92,2.84],[5.86,3.02],[6.52,2.80],[6.58,2.92],[6.36,2.84],[6.24,2.92],[6.46,2.46],[6.30,2.60],[6.00,2.62],[5.76,2.90],[5.70,3.06],[5.78,3.12]];

// the solid parts of the three clouds, where single dots merge
const denseRed = [[2.90,7.38],[2.94,7.34],[3.0,7.28],[2.92,7.26],[2.98,7.17],[2.90,7.17],[3.04,7.35],[2.84,7.35],[3.2,7.2],[3.27,7.2],[3.3,7.13],[3.2,7.1],[3.27,7.05],[3.35,7.07],[3.1,7.0],[3.2,6.95],[3.3,6.98],[3.43,7.0],[3.5,7.03],[3.52,6.94],[3.6,6.95],[3.1,6.92],[3.18,6.85],[3.4,6.9],[3.52,6.83],[3.62,6.83],[3.75,6.85],[3.78,6.8],[3.92,6.85],[3.55,6.75],[3.03,6.66],[3.1,6.6],[3.2,6.55],[3.03,6.5],[3.0,6.42],[3.1,6.37],[3.18,6.5],[3.15,6.28],[3.0,6.3],[3.2,6.38],[3.3,6.33],[3.55,6.35],[3.6,6.28],[3.7,6.25],[3.5,6.28],[3.4,6.28],[3.3,6.18],[3.45,6.18],[3.55,6.1],[3.6,6.14],[3.7,6.35],[3.76,6.36],[2.45,6.93],[2.5,6.85],[2.4,6.8],[2.48,6.78],[2.33,5.98],[2.38,5.9],[2.35,5.8],[2.42,5.76],[2.47,5.76],[2.33,5.95],[2.58,7.15],[2.6,7.05],[2.65,6.95],[2.73,7.0],[2.6,7.72],[2.66,7.76],[2.65,7.65],[2.6,7.6],[2.65,6.42],[2.6,6.3],[2.72,6.3],[2.65,6.22],[2.7,6.45],[4.3,6.2],[4.36,6.14],[4.26,6.1],[4.6,6.2],[4.55,6.24],[4.67,6.2],[4.4,6.45],[4.48,6.42],[4.1,5.72],[4.15,5.65],[4.05,5.75],[4.12,5.83],[4.56,5.98],[4.6,6.0],[4.55,5.75],[4.52,7.07],[4.6,7.0]];

const denseOrange = [[7.48,7.38],[7.55,7.38],[7.5,7.25],[7.62,7.25],[7.72,7.3],[7.52,7.2],[7.6,7.1],[7.66,7.02],[7.56,6.95],[7.5,6.92],[7.4,6.95],[7.32,7.0],[7.26,6.9],[7.3,6.85],[7.42,6.88],[7.48,6.86],[7.6,6.9],[7.78,6.9],[7.5,6.7],[7.55,6.65],[7.48,6.6],[7.6,6.56],[7.68,6.68],[7.72,6.6],[7.58,6.46],[7.66,6.42],[7.55,6.4],[7.78,6.55],[7.82,6.48],[7.86,6.44],[7.42,6.66],[7.46,6.54],[7.44,7.68],[7.5,7.55],[7.56,7.68],[7.62,7.55],[7.7,7.57],[7.8,7.55],[7.85,7.6],[7.95,7.55],[8.05,7.57],[8.1,7.65],[8.0,7.4],[8.5,7.0],[8.55,6.95],[8.6,6.9],[8.62,6.98],[8.48,6.92],[8.55,6.85],[8.68,7.0],[8.6,6.82],[8.5,6.73],[8.3,6.6],[8.35,6.7],[8.25,6.65],[8.38,6.55],[7.12,7.2],[7.1,7.1],[7.14,7.0],[7.2,7.1],[7.16,6.95],[7.28,6.92],[7.12,6.88],[7.26,7.0],[7.3,7.1],[6.7,7.03],[6.75,6.93],[6.65,7.0],[6.84,6.05],[6.78,5.98],[6.82,5.92],[6.9,5.95],[6.72,5.92],[6.95,5.66],[6.88,5.6],[6.98,5.65],[6.92,5.58],[7.62,5.56],[7.7,5.6],[7.66,5.52],[7.46,6.2],[7.5,6.14],[7.42,6.16],[8.05,6.2],[8.12,6.14],[8.15,6.15],[8.06,6.1]];

const denseGreen = [[6.0,3.14],[6.06,3.13],[6.14,3.15],[6.2,3.13],[6.28,3.14],[6.34,3.13],[6.4,3.06],[6.32,3.06],[6.16,3.07],[6.06,3.05],[6.12,2.98],[6.02,2.9],[6.1,2.92],[6.22,2.98],[6.28,2.82],[6.22,2.84],[6.34,2.76],[6.26,2.76],[6.16,2.72],[6.42,2.72],[6.5,2.78],[6.56,2.85],[6.62,3.08],[6.66,3.14],[6.74,3.12],[6.76,3.04],[6.82,3.06],[6.74,2.96],[6.6,2.96],[6.72,2.88],[6.8,2.87],[6.84,2.78],[6.66,2.8],[6.6,2.7],[6.74,2.68],[6.84,2.62],[6.66,2.6],[6.54,2.58],[6.48,2.62],[6.16,2.6],[6.08,2.6],[6.0,2.68],[5.94,2.55],[6.06,2.52],[6.12,2.42],[6.24,2.58],[6.38,2.52],[6.42,2.4],[6.5,2.36],[5.94,2.42],[5.94,2.33],[6.0,2.3],[6.26,2.33],[6.38,2.33],[5.62,3.1],[5.66,3.04],[5.7,3.14],[5.78,3.06],[5.8,3.14],[5.72,2.92],[5.76,2.82],[5.62,2.95],[5.2,2.98],[5.13,2.94],[5.18,3.0],[5.22,3.06],[5.1,2.95],[5.2,2.75],[5.23,2.8],[5.0,2.34],[5.07,2.32],[5.09,2.28],[4.95,2.3]];

const allPoints = [...upperLeft, ...lowerLeft, ...upperRight, ...lowerRight, ...denseRed, ...denseOrange, ...denseGreen];

// cluster discs as seen in panels b and c: [centre x, centre y, radius]
const redDiscB = [3.30, 6.72, 1.95];
const orangeDiscB = [7.72, 6.87, 1.72];
const greenDiscB = [6.12, 2.95, 1.45];
const redDiscC = [3.22, 6.74, 1.45];
const orangeDiscC = [7.63, 7.09, 1.23];
const greenDiscC = [6.20, 2.85, 1.17];

const inDisc = (disc) => (p) => Math.hypot(p[0] - disc[0], p[1] - disc[1]) <= disc[2];
const toXY = (p) => ({ x: p[0], y: p[1] });

function scatterSets(discs) {
  const [red, orange, green] = discs;
  const isCluster = (p) => discs.some((disc) => inDisc(disc)(p));
  const dots = (points, color) => ({
    data: points.map(toXY),
    backgroundColor: color,
    borderWidth: 0,
    pointRadius: 5.2,
    pointStyle: "circle",
  });
  if (!discs.length) return [dots(allPoints, "#0000ff")];
  return [
    dots(allPoints.filter(inDisc(red)), "#ff0000"),
    dots(allPoints.filter(inDisc(orange)), "#ffa500"),
    dots(allPoints.filter(inDisc(green)), "#00ff00"),
    dots(allPoints.filter((p) => !isCluster(p)), "#0000ff"),
  ];
}

const panelFrame = {
  id: "panelFrame",
  afterDraw(chart) {
    const { ctx, chartArea: a } = chart;
    ctx.save();
    ctx.strokeStyle = "#111111";
    ctx.lineWidth = 3;
    ctx.strokeRect(a.left, a.top, a.right - a.left, a.bottom - a.top);
    ctx.restore();
  },
};

function drawPanel(id, canvasLeft, canvasTop, plotRight, title, discs, showYLabels) {
  const canvas = document.getElementById(id);
  canvas.width = plotRight - canvasLeft + 30;
  canvas.height = 1115 - canvasTop;
  canvas.style.left = canvasLeft + "px";
  canvas.style.top = canvasTop + "px";
  const tickGrid = { drawOnChartArea: false, drawTicks: true, tickLength: 8, tickWidth: 2, tickColor: "#333333" };
  const tickFont = { family: "'Liberation Sans', Arial, sans-serif", size: 29 };
  const fixTicks = (scale) => { scale.ticks = tickValues.map((value) => ({ value })); };
  new Chart(canvas, {
    type: "scatter",
    data: { datasets: scatterSets(discs) },
    plugins: [panelFrame],
    options: {
      responsive: false,
      animation: false,
      devicePixelRatio: 1,
      layout: { padding: { top: 38, right: 30, left: 0, bottom: 0 } },
      plugins: { legend: { display: false }, tooltip: { enabled: false }, title: { display: false } },
      scales: {
        x: {
          type: "linear",
          min: -0.48,
          max: 10.49,
          afterBuildTicks: fixTicks,
          afterFit: (scale) => { scale.height = 114 - canvasTop; },
          border: { display: false },
          grid: tickGrid,
          ticks: {
            color: "#4d4d4d",
            font: tickFont,
            padding: 6,
            maxRotation: 0,
            autoSkip: false,
            callback: (v) => Number(v).toFixed(1),
          },
          title: {
            display: true,
            text: title,
            color: "#000000",
            font: { family: "'Liberation Sans', Arial, sans-serif", size: 33, style: "italic" },
            padding: { top: 0, bottom: 17 },
          },
        },
        y: {
          type: "linear",
          min: -0.24,
          max: 10.435,
          afterBuildTicks: fixTicks,
          afterFit: (scale) => { scale.width = 93; },
          border: { display: false },
          grid: tickGrid,
          ticks: {
            display: showYLabels,
            color: "#4d4d4d",
            font: tickFont,
            padding: 8,
            autoSkip: false,
            callback: (v) => Number(v).toFixed(1),
          },
        },
      },
    },
  });
}

drawPanel("panelA", 0, 2, 1076, "a", [], true);
drawPanel("panelB", 1075, 0, 2150, "b", [redDiscB, orangeDiscB, greenDiscB], false);
drawPanel("panelC", 2147, 0, 3242, "c", [redDiscC, orangeDiscC, greenDiscC], false);
</script>
</body>
</html>
